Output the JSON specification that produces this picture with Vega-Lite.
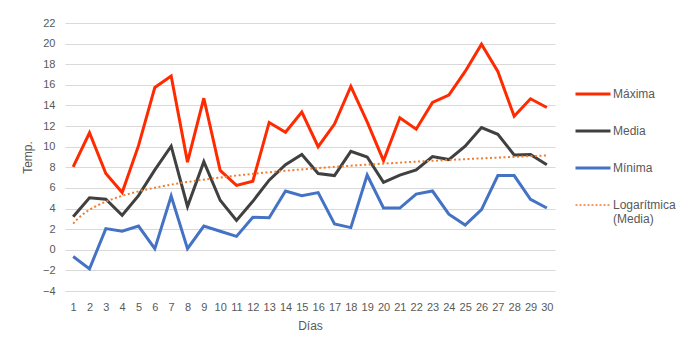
{
  "$schema": "https://vega.github.io/schema/vega-lite/v6.json",
  "width": 490,
  "height": 268,
  "autosize": {"type": "none"},
  "padding": {"left": 65, "top": 23, "right": 140, "bottom": 60},
  "background": "white",
  "config": {
    "view": {"stroke": null},
    "font": "Liberation Sans",
    "axis": {"labelColor": "#595959", "titleColor": "#595959", "labelFontSize": 11, "titleFontSize": 12, "titleFontWeight": "normal", "labelOverlap": false}
  },
  "datasets": {
    "temps": [
      {"day": 1, "serie": "Máxima", "temp": 8.05}, {"day": 2, "serie": "Máxima", "temp": 11.35}, {"day": 3, "serie": "Máxima", "temp": 7.4}, {"day": 4, "serie": "Máxima", "temp": 5.55}, {"day": 5, "serie": "Máxima", "temp": 10.1}, {"day": 6, "serie": "Máxima", "temp": 15.75}, {"day": 7, "serie": "Máxima", "temp": 16.85}, {"day": 8, "serie": "Máxima", "temp": 8.5}, {"day": 9, "serie": "Máxima", "temp": 14.7}, {"day": 10, "serie": "Máxima", "temp": 7.7},
      {"day": 11, "serie": "Máxima", "temp": 6.25}, {"day": 12, "serie": "Máxima", "temp": 6.65}, {"day": 13, "serie": "Máxima", "temp": 12.35}, {"day": 14, "serie": "Máxima", "temp": 11.4}, {"day": 15, "serie": "Máxima", "temp": 13.35}, {"day": 16, "serie": "Máxima", "temp": 10.0}, {"day": 17, "serie": "Máxima", "temp": 12.2}, {"day": 18, "serie": "Máxima", "temp": 15.85}, {"day": 19, "serie": "Máxima", "temp": 12.4}, {"day": 20, "serie": "Máxima", "temp": 8.65},
      {"day": 21, "serie": "Máxima", "temp": 12.8}, {"day": 22, "serie": "Máxima", "temp": 11.7}, {"day": 23, "serie": "Máxima", "temp": 14.3}, {"day": 24, "serie": "Máxima", "temp": 15.0}, {"day": 25, "serie": "Máxima", "temp": 17.3}, {"day": 26, "serie": "Máxima", "temp": 19.95}, {"day": 27, "serie": "Máxima", "temp": 17.3}, {"day": 28, "serie": "Máxima", "temp": 12.95}, {"day": 29, "serie": "Máxima", "temp": 14.65}, {"day": 30, "serie": "Máxima", "temp": 13.8},
      {"day": 1, "serie": "Media", "temp": 3.2}, {"day": 2, "serie": "Media", "temp": 5.05}, {"day": 3, "serie": "Media", "temp": 4.9}, {"day": 4, "serie": "Media", "temp": 3.35}, {"day": 5, "serie": "Media", "temp": 5.25}, {"day": 6, "serie": "Media", "temp": 7.75}, {"day": 7, "serie": "Media", "temp": 10.05}, {"day": 8, "serie": "Media", "temp": 4.2}, {"day": 9, "serie": "Media", "temp": 8.55}, {"day": 10, "serie": "Media", "temp": 4.8},
      {"day": 11, "serie": "Media", "temp": 2.85}, {"day": 12, "serie": "Media", "temp": 4.7}, {"day": 13, "serie": "Media", "temp": 6.75}, {"day": 14, "serie": "Media", "temp": 8.25}, {"day": 15, "serie": "Media", "temp": 9.25}, {"day": 16, "serie": "Media", "temp": 7.4}, {"day": 17, "serie": "Media", "temp": 7.2}, {"day": 18, "serie": "Media", "temp": 9.55}, {"day": 19, "serie": "Media", "temp": 9.0}, {"day": 20, "serie": "Media", "temp": 6.55},
      {"day": 21, "serie": "Media", "temp": 7.25}, {"day": 22, "serie": "Media", "temp": 7.75}, {"day": 23, "serie": "Media", "temp": 9.05}, {"day": 24, "serie": "Media", "temp": 8.75}, {"day": 25, "serie": "Media", "temp": 10.05}, {"day": 26, "serie": "Media", "temp": 11.85}, {"day": 27, "serie": "Media", "temp": 11.2}, {"day": 28, "serie": "Media", "temp": 9.2}, {"day": 29, "serie": "Media", "temp": 9.25}, {"day": 30, "serie": "Media", "temp": 8.25},
      {"day": 1, "serie": "Mínima", "temp": -0.65}, {"day": 2, "serie": "Mínima", "temp": -1.85}, {"day": 3, "serie": "Mínima", "temp": 2.05}, {"day": 4, "serie": "Mínima", "temp": 1.8}, {"day": 5, "serie": "Mínima", "temp": 2.3}, {"day": 6, "serie": "Mínima", "temp": 0.1}, {"day": 7, "serie": "Mínima", "temp": 5.2}, {"day": 8, "serie": "Mínima", "temp": 0.1}, {"day": 9, "serie": "Mínima", "temp": 2.3}, {"day": 10, "serie": "Mínima", "temp": 1.8},
      {"day": 11, "serie": "Mínima", "temp": 1.3}, {"day": 12, "serie": "Mínima", "temp": 3.15}, {"day": 13, "serie": "Mínima", "temp": 3.1}, {"day": 14, "serie": "Mínima", "temp": 5.7}, {"day": 15, "serie": "Mínima", "temp": 5.25}, {"day": 16, "serie": "Mínima", "temp": 5.55}, {"day": 17, "serie": "Mínima", "temp": 2.5}, {"day": 18, "serie": "Mínima", "temp": 2.15}, {"day": 19, "serie": "Mínima", "temp": 7.25}, {"day": 20, "serie": "Mínima", "temp": 4.05},
      {"day": 21, "serie": "Mínima", "temp": 4.05}, {"day": 22, "serie": "Mínima", "temp": 5.4}, {"day": 23, "serie": "Mínima", "temp": 5.7}, {"day": 24, "serie": "Mínima", "temp": 3.45}, {"day": 25, "serie": "Mínima", "temp": 2.4}, {"day": 26, "serie": "Mínima", "temp": 3.9}, {"day": 27, "serie": "Mínima", "temp": 7.2}, {"day": 28, "serie": "Mínima", "temp": 7.2}, {"day": 29, "serie": "Mínima", "temp": 4.9}, {"day": 30, "serie": "Mínima", "temp": 4.05}
    ]
  },
  "data": {"name": "temps"},
  "layer": [
    {
      "mark": {"type": "line", "strokeWidth": 3},
      "encoding": {
        "x": {
          "field": "day", "type": "quantitative",
          "scale": {"domain": [0.5, 30.5], "nice": false, "zero": false},
          "axis": {"values": [1,2,3,4,5,6,7,8,9,10,11,12,13,14,15,16,17,18,19,20,21,22,23,24,25,26,27,28,29,30], "tickCount": 30, "labelOverlap": false, "grid": false, "domain": false, "ticks": false, "labelPadding": 10, "labelFlush": false, "title": "Días", "titlePadding": 8}
        },
        "y": {
          "field": "temp", "type": "quantitative",
          "scale": {"domain": [-4, 22], "nice": false, "zero": false},
          "axis": {"values": [-4,-2,0,2,4,6,8,10,12,14,16,18,20,22], "tickCount": 14, "labelOverlap": false, "grid": true, "gridColor": "#D9D9D9", "gridWidth": 1, "domain": false, "ticks": false, "labelPadding": 10, "title": "Temp.", "titlePadding": 8}
        },
        "color": {
          "field": "serie", "type": "nominal",
          "scale": {"domain": ["Máxima", "Media", "Mínima", "Logarítmica (Media)"], "range": ["#FF2A00", "#404040", "#4472C4", "#ED7D31"]},
          "legend": {
            "title": null, "orient": "none", "legendX": 522, "legendY": 65,
            "symbolType": "stroke", "symbolSize": 1225, "symbolStrokeWidth": 3,
            "labelFontSize": 12, "labelColor": "#595959", "labelOffset": 14, "rowPadding": 25,
            "labelExpr": "datum.label == 'Logarítmica (Media)' ? ['Logarítmica', '(Media)'] : datum.label",
            "encode": {"symbols": {"update": {
              "strokeDash": {"signal": "datum.label == 'Logarítmica (Media)' ? [2, 2] : [1, 0]"},
              "strokeWidth": {"signal": "datum.label == 'Logarítmica (Media)' ? 1.5 : 3"}
            }}}
          }
        }
      }
    },
    {
      "transform": [
        {"filter": "datum.serie == 'Media'"},
        {"regression": "temp", "on": "day", "method": "log"}
      ],
      "mark": {"type": "line", "strokeWidth": 2, "strokeDash": [2, 2.5]},
      "encoding": {
        "x": {"field": "day", "type": "quantitative"},
        "y": {"field": "temp", "type": "quantitative"},
        "color": {"datum": "Logarítmica (Media)"}
      }
    }
  ]
}
